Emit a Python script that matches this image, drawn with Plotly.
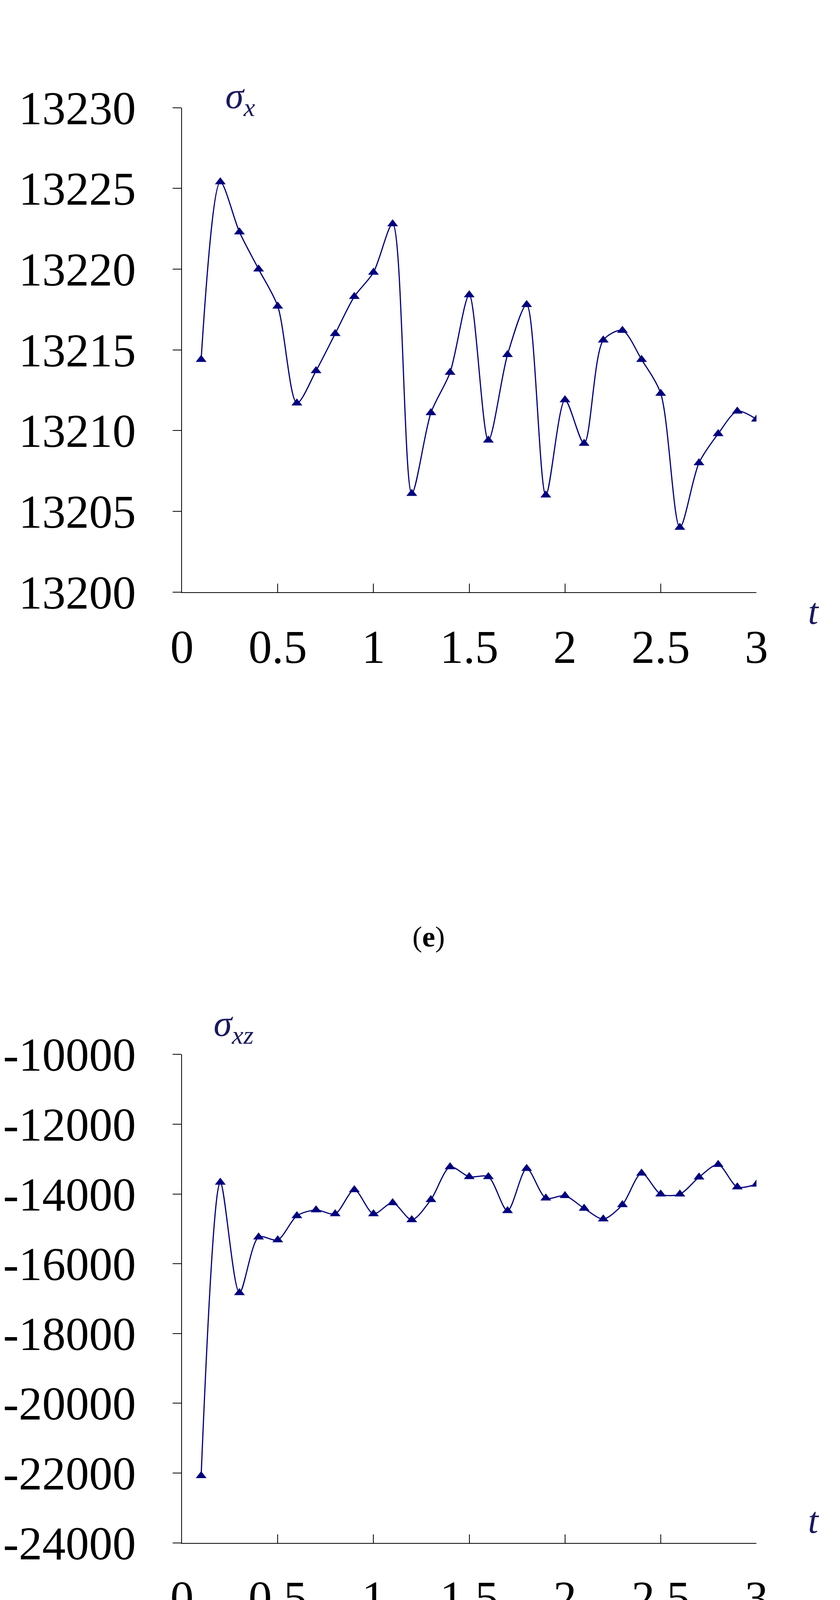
import plotly.graph_objects as go

t = [round(0.1*i, 1) for i in range(1, 31)]
sigma_x = [13214.4, 13225.4, 13222.3, 13220.0, 13217.7, 13211.7, 13213.7, 13216.0, 13218.3, 13219.8,
           13222.8, 13206.1, 13211.1, 13213.6, 13218.4, 13209.4, 13214.7, 13217.8, 13206.0, 13211.9,
           13209.2, 13215.6, 13216.2, 13214.4, 13212.3, 13204.0, 13208.0, 13209.8, 13211.2, 13210.7]
sigma_xz = [-22080, -13665, -16832, -15237, -15317, -14627, -14457, -14570, -13880, -14570,
            -14253, -14740, -14163, -13224, -13507, -13507, -14480, -13270, -14118, -14050,
            -14412, -14717, -14310, -13405, -14005, -14005, -13518, -13156, -13801, -13722]
x_ticks = [0, 0.5, 1, 1.5, 2, 2.5, 3]
x_labels = ["0", "0.5", "1", "1.5", "2", "2.5", "3"]
y1_ticks = [13200, 13205, 13210, 13215, 13220, 13225, 13230]
y1_labels = ["13200", "13205", "13210", "13215", "13220", "13225", "13230"]
y2_ticks = [-24000, -22000, -20000, -18000, -16000, -14000, -12000, -10000]
y2_labels = ["-24000", "-22000", "-20000", "-18000", "-16000", "-14000", "-12000", "-10000"]

NAVY = "#00007f"
fig = go.Figure()
for y, ya in [(sigma_x, "y"), (sigma_xz, "y2")]:
    fig.add_trace(go.Scatter(x=t, y=y, xaxis="x" if ya == "y" else "x2", yaxis=ya,
                             mode="lines+markers", line=dict(color=NAVY, width=3, shape="spline", smoothing=0.8),
                             marker=dict(symbol="triangle-up", size=24, color=NAVY), showlegend=False))

font = dict(family="Liberation Serif", size=120, color="black")
xcommon = dict(range=[0, 3], tickvals=x_ticks, ticktext=x_labels, showline=True, linecolor="black", linewidth=2,
               ticks="inside", ticklen=22, tickwidth=2, tickcolor="black", showgrid=False, zeroline=False,
               tickfont=font, ticklabelstandoff=35, domain=[0.1943, 0.907])
ycommon = dict(showline=True, linecolor="black", linewidth=2, ticks="outside", ticklen=22, tickwidth=2,
               tickcolor="black", showgrid=False, zeroline=False, tickfont=font, ticklabelstandoff=70)
fig.update_layout(
    width=2151, height=4638, autosize=False, margin=dict(l=0, r=0, t=0, b=0),
    plot_bgcolor="white", paper_bgcolor="white",
    xaxis=dict(**xcommon, anchor="y"),
    xaxis2=dict(**xcommon, anchor="y2"),
    yaxis=dict(**ycommon, range=[13200, 13230], tickvals=y1_ticks, ticktext=y1_labels,
               domain=[0.6798, 0.955], anchor="x"),
    yaxis2=dict(**ycommon, range=[-24000, -10000], tickvals=y2_ticks, ticktext=y2_labels,
                domain=[0.1395, 0.417], anchor="x2"),
)
lab = dict(family="Liberation Serif", size=95, color="#1a1a60")
anns = [
    dict(x=532, y=120, text="<i>σ<sub>x</sub></i>"),
    dict(x=500, y=2629, text="<i>σ<sub>xz</sub></i>"),
    dict(x=2121, y=1479, text="<i>t</i>"),
    dict(x=2121, y=3988, text="<i>t</i>"),
]
for a in anns:
    fig.add_annotation(x=a["x"] / 2151, y=1 - a["y"] / 4638, xref="paper", yref="paper", text=a["text"],
                       showarrow=False, font=lab)
cap = dict(family="Liberation Serif", size=75, color="black")
fig.add_annotation(x=0.5, y=1 - 2393 / 4638, xref="paper", yref="paper", text="(<b>e</b>)", showarrow=False, font=cap)
fig.add_annotation(x=0.5, y=1 - 4556 / 4638, xref="paper", yref="paper", text="(<b>f</b>)", showarrow=False, font=cap)
fig.write_html("out.html")
